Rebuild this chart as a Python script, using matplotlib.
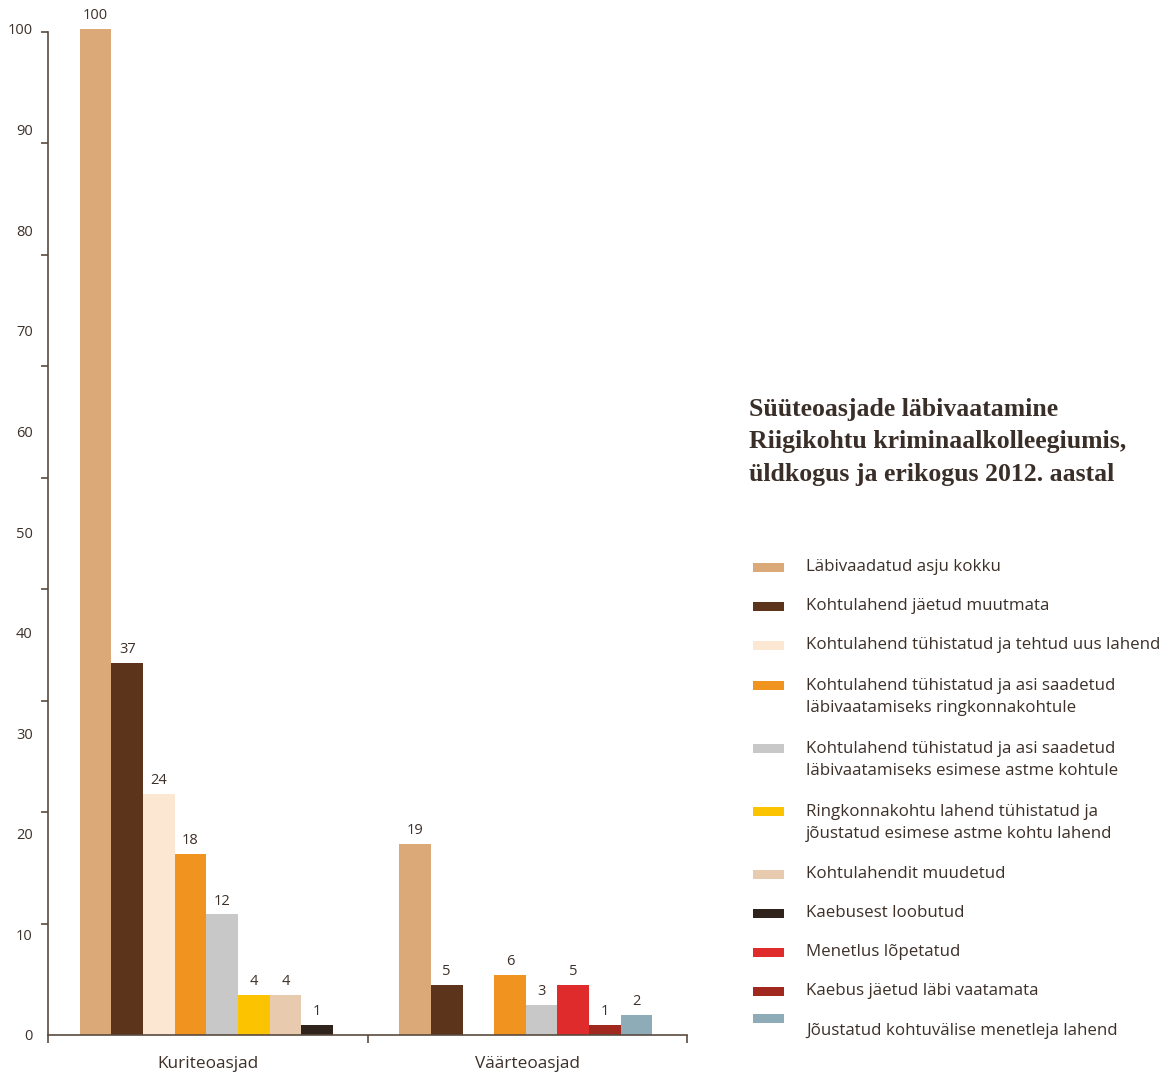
import matplotlib
matplotlib.use("Agg")
import matplotlib.pyplot as plt
from matplotlib.patches import Rectangle
import numpy as np

categories = ["Kuriteoasjad", "Väärteoasjad"]
series = [
    "Läbivaadatud asju kokku",
    "Kohtulahend jäetud muutmata",
    "Kohtulahend tühistatud ja tehtud uus lahend",
    "Kohtulahend tühistatud ja asi saadetud\nläbivaatamiseks ringkonnakohtule",
    "Kohtulahend tühistatud ja asi saadetud\nläbivaatamiseks esimese astme kohtule",
    "Ringkonnakohtu lahend tühistatud ja\njõustatud esimese astme kohtu lahend",
    "Kohtulahendit muudetud",
    "Kaebusest loobutud",
    "Menetlus lõpetatud",
    "Kaebus jäetud läbi vaatamata",
    "Jõustatud kohtuvälise menetleja lahend",
]
colors = ["#DBA977", "#5C341C", "#FCE7D3", "#F0941F", "#C7C8C7", "#FCC400",
          "#E8CAAE", "#30231C", "#E02B2C", "#A0281E", "#8EABB8"]
nan = np.nan
kuriteo = [100, 37, 24, 18, 12, 4, 4, 1, nan, nan, nan]
vaarteo = [19, 5, 0, 6, 3, nan, nan, nan, 5, 1, 2]
values = [kuriteo, vaarteo]

txt = "#3D3029"
plt.rcParams['font.family'] = ['Open Sans', 'DejaVu Sans']

fig = plt.figure(figsize=(11.72, 10.76), dpi=100)
ax = fig.add_axes([48/1172, 1 - 1035/1076, 639/1172, 1006/1076])

w = 0.099
for g, vals in enumerate(values):
    k = 0
    for s, v in enumerate(vals):
        if np.isnan(v):
            continue
        x = g + 0.149 + w * k
        ax.bar(x, v, width=w, color=colors[s], linewidth=0)
        if v > 0:
            ax.annotate(f"{v:g}", (x, v), xytext=(0, 4), textcoords="offset points",
                        ha="center", va="bottom", fontsize=10.5, color=txt)
        k += 1

ax.set_xlim(0, 2)
ax.set_ylim(0, 100)
for sp in ["top", "right"]:
    ax.spines[sp].set_visible(False)
for sp in ["left", "bottom"]:
    ax.spines[sp].set_color("#5A4A40")
    ax.spines[sp].set_linewidth(1.2)
ax.spines["left"].set_bounds(0, 99.7)

ax.set_yticks(np.arange(0, 101, 10))
ax.tick_params(axis="y", which="major", length=0, pad=11, labelsize=10.5, labelcolor=txt)
ax.set_yticks(np.linspace(0, 99.7, 10), minor=True)
ax.tick_params(axis="y", which="minor", length=5, width=1.2, color="#5A4A40")

ax.set_xticks([0, 1, 2])
ax.set_xticklabels([])
ax.tick_params(axis="x", which="major", length=6, width=1.2, color="#5A4A40")
ax.set_xticks([0.5, 1.5], minor=True)
ax.set_xticklabels(categories, minor=True)
ax.tick_params(axis="x", which="minor", length=0, pad=15, labelsize=12.4, labelcolor=txt)

fig.text(749/1172, 1 - 442/1076,
         "Süüteoasjade läbivaatamine\nRiigikohtu kriminaalkolleegiumis,\nüldkogus ja erikogus 2012. aastal",
         family="Liberation Serif", fontweight="bold", fontsize=18.5, color="#3A2E28",
         ha="left", va="center", linespacing=1.55)

patch_y = [567, 606, 645, 685, 748, 811, 874, 913, 952, 991, 1018]
text_y = [567, 606, 645, 697, 760, 823, 874, 913, 952, 991, 1031]
for s in range(len(series)):
    fig.add_artist(Rectangle((753/1172, 1 - (patch_y[s] + 4.5)/1076), 31/1172, 9/1076,
                             transform=fig.transFigure, color=colors[s], linewidth=0))
    fig.text(806/1172, 1 - text_y[s]/1076, series[s], fontsize=12.2, color=txt,
             ha="left", va="center", linespacing=1.55)

fig.savefig("out.png", dpi=100, facecolor="white")
